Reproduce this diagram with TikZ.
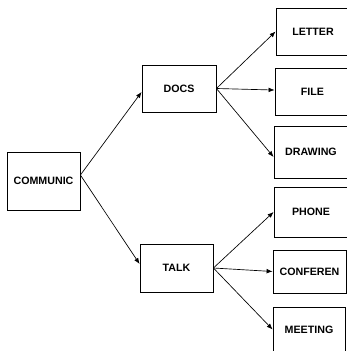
\documentclass[tikz,border=0pt]{standalone}
\usepackage{fontspec}
\setmainfont{Liberation Sans}
\usetikzlibrary{arrows.meta}
\begin{document}
\begin{tikzpicture}[x=0.75pt,y=-0.75pt,
  box/.style={draw,line width=0.6pt,inner sep=0pt,font=\bfseries\fontsize{8}{9.5}\selectfont},
  conn/.style={line width=0.5pt,-{Latex[length=4.5pt,width=3.5pt]}}]
\useasboundingbox (0,0) rectangle (347,351);
\node[box,minimum width=54.75pt,minimum height=43.5pt] (communic) at (43.5,181) {COMMUNIC};
\node[box,minimum width=55.5pt,minimum height=35.25pt] (docs) at (179,88.5) {DOCS};
\node[box,minimum width=54.75pt,minimum height=36pt] (talk) at (176.5,268) {TALK};
\node[box,minimum width=55.5pt,minimum height=35.25pt] (letter) at (313,31.5) {LETTER};
\node[box,minimum width=56.25pt,minimum height=35.25pt] (file) at (312.5,91.5) {FILE};
\node[box,minimum width=55.5pt,minimum height=39pt] (drawing) at (311,152) {DRAWING};
\node[box,minimum width=55.5pt,minimum height=37.5pt] (phone) at (311,212) {PHONE};
\node[box,minimum width=54.75pt,minimum height=32.25pt] (conferen) at (309.5,271.5) {CONFEREN};
\node[box,minimum width=54pt,minimum height=33.75pt] (meeting) at (309,329.5) {MEETING};
\coordinate (cout) at ([yshift=4.5pt]communic.east);
\draw[conn] (cout) -- ([yshift=-2.6pt]docs.west);
\draw[conn] (cout) -- ([yshift=3pt]talk.west);
\draw[conn] (docs.east) -- (letter.west);
\draw[conn] (docs.east) -- ([yshift=1.1pt]file.west);
\draw[conn] (docs.east) -- ([yshift=-3.75pt]drawing.west);
\draw[conn] (talk.east) -- (phone.west);
\draw[conn] (talk.east) -- (conferen.west);
\draw[conn] (talk.east) -- (meeting.west);
\end{tikzpicture}
\end{document}
